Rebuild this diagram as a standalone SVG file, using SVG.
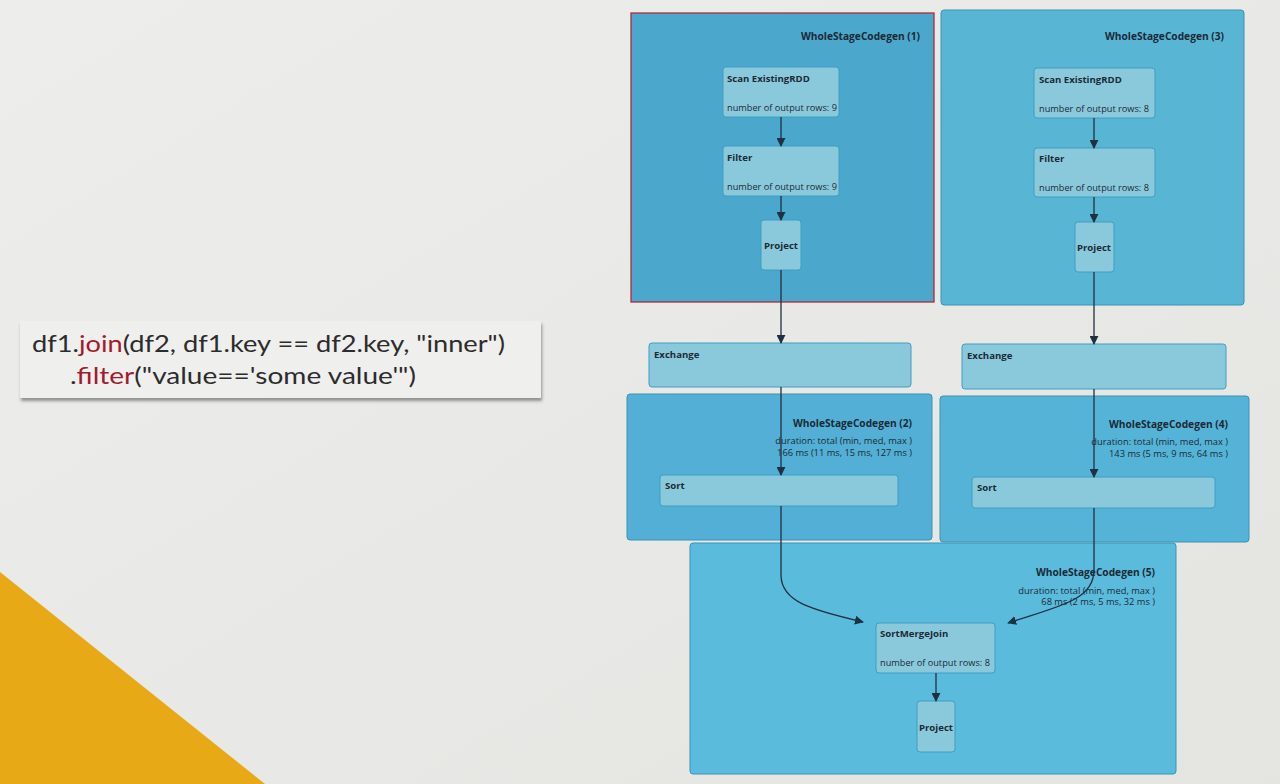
<svg xmlns="http://www.w3.org/2000/svg" width="1280" height="784" viewBox="0 0 1280 784">
<defs>
<linearGradient id="bg" x1="0" y1="0" x2="1" y2="1">
<stop offset="0" stop-color="#ededeb"/>
<stop offset="1" stop-color="#e4e4e1"/>
</linearGradient>
<marker id="ah" viewBox="0 0 10 10" refX="9" refY="5" markerWidth="9" markerHeight="9" markerUnits="userSpaceOnUse" orient="auto">
<path d="M0,0 L10,5 L0,10 z" fill="#1f3140"/>
</marker>
<filter id="sh" x="-5%" y="-20%" width="110%" height="150%">
<feDropShadow dx="1" dy="3" stdDeviation="1.5" flood-color="#555" flood-opacity="0.6"/>
</filter>
</defs>
<style>
.stage{stroke:#3b93b6;stroke-width:1}
.node{fill:#8ac9dc;stroke:#3e9dc2;stroke-width:1}
.t{font-family:"Open Sans","Noto Sans",sans-serif;fill:#1b2a36}
.title{font-size:10.2px;font-weight:bold;text-anchor:end}
.name{font-size:9.6px;font-weight:bold}
.metric{font-size:9.2px}
.dur{font-size:9.3px;text-anchor:end}
.edge{fill:none;stroke:#1f3140;stroke-width:1.3}
.code{font-family:Lato,"Liberation Sans",sans-serif;font-size:24px;fill:#2c2c2c}
.kw{fill:#a31b2c}
</style>
<rect x="0" y="0" width="1280" height="784" fill="url(#bg)"/>
<polygon points="0,572 265,784 0,784" fill="#e8a916"/>

<g id="code">
<rect x="20" y="321" width="521" height="77" fill="#efefed" filter="url(#sh)"/>
<text class="code" x="32" y="352" textLength="473" lengthAdjust="spacingAndGlyphs">df1.<tspan class="kw">join</tspan>(df2, df1.key == df2.key, "inner")</text>
<text class="code" x="70" y="384" textLength="346" lengthAdjust="spacingAndGlyphs">.<tspan class="kw">filter</tspan>("value=='some value'")</text>
</g>

<g id="wsc1">
<rect x="631" y="13" width="303" height="289" fill="#4ba7cb" stroke="#b02a3c" stroke-width="1.3"/>
<text class="t title" x="920" y="40">WholeStageCodegen (1)</text>
</g>
<g id="wsc3">
<rect x="941" y="10" width="303" height="295" rx="3" fill="#59b5d4" class="stage"/>
<text class="t title" x="1224" y="40">WholeStageCodegen (3)</text>
</g>
<g id="wsc2">
<rect x="627" y="394" width="305" height="146" rx="3" fill="#53afd5" class="stage"/>
<text class="t title" x="912" y="427">WholeStageCodegen (2)</text>
<text class="t dur" x="912" y="444">duration: total (min, med, max )</text>
<text class="t dur" x="912" y="456">166 ms (11 ms, 15 ms, 127 ms )</text>
</g>
<g id="wsc4">
<rect x="940" y="396" width="309" height="146" rx="3" fill="#56b3d8" class="stage"/>
<text class="t title" x="1228" y="428">WholeStageCodegen (4)</text>
<text class="t dur" x="1228" y="445">duration: total (min, med, max )</text>
<text class="t dur" x="1228" y="457">143 ms (5 ms, 9 ms, 64 ms )</text>
</g>
<g id="wsc5">
<rect x="690" y="543" width="486" height="231" rx="3" fill="#5bbbdd" class="stage"/>
<text class="t title" x="1155" y="576">WholeStageCodegen (5)</text>
<text class="t dur" x="1155" y="594">duration: total (min, med, max )</text>
<text class="t dur" x="1155" y="605">68 ms (2 ms, 5 ms, 32 ms )</text>
</g>

<g id="scan1">
<rect class="node" x="723" y="67" width="116" height="50" rx="3"/>
<text class="t name" x="727" y="82">Scan ExistingRDD</text>
<text class="t metric" x="727" y="111">number of output rows: 9</text>
</g>
<g id="filter1">
<rect class="node" x="723" y="146" width="116" height="50" rx="3"/>
<text class="t name" x="727" y="161">Filter</text>
<text class="t metric" x="727" y="190">number of output rows: 9</text>
</g>
<g id="project1">
<rect class="node" x="761" y="220" width="40" height="50" rx="3"/>
<text class="t name" x="781" y="249" text-anchor="middle">Project</text>
</g>
<g id="scan3">
<rect class="node" x="1034" y="68" width="121" height="50" rx="3"/>
<text class="t name" x="1039" y="83">Scan ExistingRDD</text>
<text class="t metric" x="1039" y="112">number of output rows: 8</text>
</g>
<g id="filter3">
<rect class="node" x="1034" y="148" width="121" height="49" rx="3"/>
<text class="t name" x="1039" y="162">Filter</text>
<text class="t metric" x="1039" y="191">number of output rows: 8</text>
</g>
<g id="project3">
<rect class="node" x="1075" y="222" width="39" height="50" rx="3"/>
<text class="t name" x="1094" y="251" text-anchor="middle">Project</text>
</g>
<g id="exchange1">
<rect class="node" x="649" y="343" width="262" height="44" rx="3"/>
<text class="t name" x="654" y="358">Exchange</text>
</g>
<g id="exchange2">
<rect class="node" x="962" y="344" width="264" height="45" rx="3"/>
<text class="t name" x="967" y="359">Exchange</text>
</g>
<g id="sort1">
<rect class="node" x="660" y="475" width="238" height="31" rx="3"/>
<text class="t name" x="665" y="489">Sort</text>
</g>
<g id="sort2">
<rect class="node" x="972" y="477" width="243" height="31" rx="3"/>
<text class="t name" x="977" y="491">Sort</text>
</g>
<g id="smj">
<rect class="node" x="876" y="623" width="119" height="50" rx="3"/>
<text class="t name" x="880" y="637">SortMergeJoin</text>
<text class="t metric" x="880" y="666">number of output rows: 8</text>
</g>
<g id="project5">
<rect class="node" x="917" y="701" width="38" height="51" rx="3"/>
<text class="t name" x="936" y="731" text-anchor="middle">Project</text>
</g>

<g id="connectors">
<line class="edge" x1="781" y1="117" x2="781" y2="146" marker-end="url(#ah)"/>
<line class="edge" x1="781" y1="196" x2="781" y2="220" marker-end="url(#ah)"/>
<line class="edge" x1="781" y1="270" x2="781" y2="343" marker-end="url(#ah)"/>
<line class="edge" x1="781" y1="387" x2="781" y2="475" marker-end="url(#ah)"/>
<path class="edge" d="M781,506 L781,575 C781,602 812,610 863,622" marker-end="url(#ah)"/>
<line class="edge" x1="1094" y1="118" x2="1094" y2="148" marker-end="url(#ah)"/>
<line class="edge" x1="1094" y1="197" x2="1094" y2="222" marker-end="url(#ah)"/>
<line class="edge" x1="1094" y1="272" x2="1094" y2="344" marker-end="url(#ah)"/>
<line class="edge" x1="1094" y1="389" x2="1094" y2="477" marker-end="url(#ah)"/>
<path class="edge" d="M1094,508 L1094,570 C1094,600 1060,606 1008,623" marker-end="url(#ah)"/>
<line class="edge" x1="936" y1="673" x2="936" y2="701" marker-end="url(#ah)"/>
</g>
</svg>
